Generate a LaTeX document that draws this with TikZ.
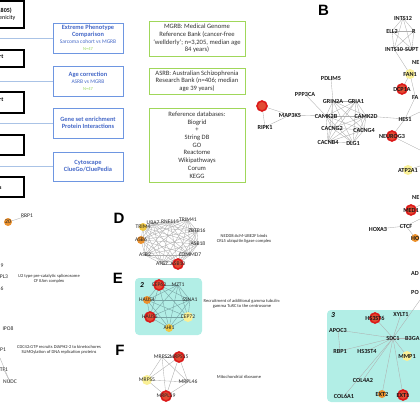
\documentclass[tikz,border=0pt]{standalone}
\usepackage{fontspec}
\setmainfont{Carlito}
\newfontfamily\panelfont{Liberation Sans}
\usetikzlibrary{backgrounds}

\definecolor{boxblue}{RGB}{110,150,225}
\definecolor{txtblue}{RGB}{70,105,200}
\definecolor{boxgreen}{RGB}{160,215,90}
\definecolor{ngreen}{RGB}{150,215,90}
\definecolor{railblue}{RGB}{170,195,230}
\definecolor{hubred}{RGB}{220,25,25}
\definecolor{hubfill}{RGB}{225,75,50}
\definecolor{huborange}{RGB}{235,145,45}
\definecolor{hubyellow}{RGB}{250,240,150}
\definecolor{hubgold}{RGB}{240,200,70}
\definecolor{edgegray}{RGB}{175,175,175}
\definecolor{edgeteal}{RGB}{120,165,165}
\definecolor{clustcyan}{RGB}{178,238,230}

\tikzset{
  blkbox/.style={draw=black, line width=1.1pt, fill=white, minimum width=68pt, inner sep=0pt},
  blktxt/.style={font=\bfseries\fontsize{6}{6.5}\selectfont, inner sep=0pt},
  bluebox/.style={draw=boxblue, line width=0.8pt, fill=white, minimum width=70pt, minimum height=30pt,
    inner sep=0pt, align=center, text=txtblue, font=\fontsize{6.4}{7}\selectfont},
  greenbox/.style={draw=boxgreen, line width=0.9pt, fill=white, minimum width=96pt,
    inner sep=0pt, align=center, text=black!80, font=\fontsize{6.6}{7.7}\selectfont},
  rail/.style={draw=railblue, line width=0.5pt},
  panel/.style={font=\panelfont\bfseries\fontsize{15}{15}\selectfont, inner sep=0pt},
  clusno/.style={font=\bfseries\itshape\fontsize{7.5}{7.5}\selectfont, inner sep=0pt},
  gene/.style={font=\fontsize{5.6}{5.6}\selectfont, inner sep=0pt, text=black!85},
  bgene/.style={font=\bfseries\fontsize{6.2}{6.2}\selectfont, inner sep=0pt, text=black!90},
  note/.style={font=\fontsize{4.5}{5.2}\selectfont, align=center, inner sep=0pt, text=black!85},
  redhub/.style={circle, draw=hubred, line width=1.6pt, fill=hubfill, minimum size=10pt, inner sep=0pt},
  orahub/.style={circle, fill=huborange, minimum size=8pt, inner sep=0pt},
  yelhub/.style={circle, fill=hubyellow, minimum size=10pt, inner sep=0pt},
  goldhub/.style={circle, fill=hubgold, minimum size=8pt, inner sep=0pt},
  edge/.style={draw=edgegray, line width=0.35pt},
  tealedge/.style={draw=edgeteal, line width=0.4pt},
  cluster/.style={fill=clustcyan, rounded corners=4pt}
}

\begin{document}
\begin{tikzpicture}[x=1pt,y=-1pt]
\useasboundingbox (0,0) rectangle (420,420);
\clip (0,0) rectangle (420,420);

% workflow, left column
\node[blkbox, minimum height=27pt] (cohort) at (-10,14.5) {};
\node[blkbox, minimum height=17pt] (setA) at (-10,58.5) {};
\node[blkbox, minimum height=21pt] (setB) at (-10,102.5) {};
\node[blkbox, minimum height=20pt] (setC) at (-10,145) {};
\node[blkbox, minimum height=20pt] (setD) at (-10,187) {};
\node[blktxt, anchor=west] (cohortA) at (-1,11) {,805)};
\node[blktxt, anchor=west] (cohortB) at (-1,18) {\mdseries enicity};
\node[blktxt, anchor=west] (setAtxt) at (-1,57) {rt};
\node[blktxt, anchor=west] (setBtxt) at (-1,100) {rt};
\node[blktxt, anchor=west] (setDtxt) at (-1,188) {s};

\node[bluebox] (xtreme) at (88,38) {\textbf{Extreme Phenotype}\\\textbf{Comparison}\\
  {\fontsize{5.5}{6}\selectfont Sarcoma cohort vs MGRB}\\{\color{ngreen}\fontsize{4.5}{5}\selectfont N=47}};
\node[bluebox] (agecor) at (88,81) {\textbf{Age correction}\\
  {\fontsize{5.5}{6}\selectfont ASRB vs MGRB}\\{\color{ngreen}\fontsize{4.5}{5}\selectfont N=47}};
\node[bluebox] (geneset) at (88,123) {\textbf{Gene set enrichment}\\\textbf{Protein Interactions}};
\node[bluebox, minimum height=29pt] (cytosc) at (88,166.5) {\textbf{Cytoscape}\\\textbf{ClueGo/CluePedia}};

\coordinate (railA) at (0,38);
\coordinate (railB) at (0,81);
\coordinate (railC) at (0,123);
\coordinate (railD) at (0,166.5);
\draw[rail] (railA) -- (xtreme.west);
\draw[rail] (railB) -- (agecor.west);
\draw[rail] (railC) -- (geneset.west);
\draw[rail] (railD) -- (cytosc.west);

\node[greenbox, minimum height=35pt] (mgrb) at (197,38.5) {MGRB: Medical Genome\\Reference Bank (cancer-free\\
  `wellderly'; n=3,205, median age\\84 years)};
\node[greenbox, minimum height=26pt] (asrb) at (197,81) {ASRB: Australian Schizophrenia\\
  Research Bank (n=406; median\\age 39 years)};
\node[greenbox, minimum height=74pt] (refdb) at (197,145) {Reference databases:\\Biogrid\\+\\String DB\\GO\\
  Reactome\\Wikipathways\\Corum\\KEGG};

% panel letters
\node[panel] (pB) at (323.5,10) {B};
\node[panel] (pD) at (119,218) {D};
\node[panel] (pE) at (118,278) {E};
\node[panel] (pF) at (120,350) {F};

% left fragment
\node[gene] (l20) at (8,222) {20};
\node[gene] (RRP1) at (27,216) {RRP1};
\node[gene] (l9) at (2,266) {9};
\node[gene] (lPL3) at (4,277) {PL3};
\node[gene] (l6) at (2,289) {6};
\node[gene] (IPO8) at (8,329) {IPO8};
\node[gene] (lP1) at (3,350) {P1};
\node[gene] (lTF1) at (4,370) {TF1};
\node[gene] (NUDC) at (10,382) {NUDC};
\coordinate (lfree) at (0,358);
\node[note] (u2note) at (49,278.5) {U2 type pre-catalytic spliceosome\\CF IIAm complex};
\node[note] (cdcnote) at (59,349.5) {CDC42:GTP recruits DIAPH2-2 to kinetochores\\SUMOylation of DNA replication proteins};

% D
\node[gene] (TRIM4) at (143,227) {TRIM4};
\node[gene] (UBA7) at (153,223) {UBA7};
\node[gene] (RNF115) at (170,222) {RNF115};
\node[gene] (TRIM41) at (188,220) {TRIM41};
\node[gene] (ZBTB16) at (197,231) {ZBTB16};
\node[gene] (ASB18) at (198,244) {ASB18};
\node[gene] (COMMD7) at (190,255) {COMMD7};
\node[gene] (ASB10) at (178,264) {ASB10};
\node[gene] (ATG7) at (162,264) {ATG7};
\node[gene] (ASB2) at (145,255) {ASB2};
\node[gene] (ASB6) at (141,240) {ASB6};
\node[note] (neddnote) at (244,238.5) {NEDD8:AcM-UBE2F binds\\CRL5 ubiquitin ligase complex};

% E
\node[clusno] (cl2) at (142,285) {2};
\node[gene] (CEP63) at (159,285) {CEP63};
\node[gene] (MZT1) at (178,285) {MZT1};
\node[gene] (HAUS4) at (147,300) {HAUS4};
\node[gene] (SSNA1) at (190,300) {SSNA1};
\node[gene] (HAUS5) at (150,317) {HAUS5};
\node[gene] (CEP72) at (188,317) {CEP72};
\node[gene] (AHI1) at (169,328) {AHI1};
\node[note] (gtnote) at (242,303.5) {Recruitment of additional gamma tubulin:\\gamma TuRC to the centrosome};

% F
\node[gene] (MRPS2) at (162,357) {MRPS2};
\node[gene] (MRPS15) at (179,357) {MRPS15};
\node[gene] (MRPS5) at (147,380) {MRPS5};
\node[gene] (MRPL46) at (188,382) {MRPL46};
\node[gene] (MRPL39) at (166,396) {MRPL39};
\node[note] (mitonote) at (239,377) {Mitochondrial ribosome};

% B
\node[bgene] (INTS12) at (403,18) {INTS12};
\node[bgene] (ELL2) at (392,31) {ELL2};
\node[bgene, anchor=west] (Rx) at (412,31) {R};
\node[bgene] (INTS10) at (394,49) {INTS10};
\node[bgene, anchor=west] (SUPT) at (405,49) {SUPT};
\node[bgene, anchor=west] (NEx) at (412,62) {NE};
\node[bgene] (FAN1) at (410,74) {FAN1};
\node[bgene] (DCP1A) at (402,89) {DCP1A};
\node[bgene, anchor=west] (FAx) at (412,97) {FA};
\node[bgene] (HES1) at (405,119) {HES1};
\node[bgene] (NEUROG3) at (392,136) {NEUROG3};
\node[bgene] (PDLIM5) at (331,79) {PDLIM5};
\node[bgene] (PPP3CA) at (305,94) {PPP3CA};
\node[bgene] (GRIN2A) at (333,101) {GRIN2A};
\node[bgene] (GRIA1) at (356,101) {GRIA1};
\node[bgene] (MAP3K5) at (290,115) {MAP3K5};
\node[bgene] (CAMK2B) at (326,116) {CAMK2B};
\node[bgene] (CAMK2D) at (366,116) {CAMK2D};
\node[bgene] (CACNG2) at (332,128) {CACNG2};
\node[bgene] (CACNG4) at (364,130) {CACNG4};
\node[bgene] (CACNB4) at (328,142) {CACNB4};
\node[bgene] (DLG1) at (353,143) {DLG1};
\coordinate (hubB) at (262,106);
\node[bgene] (RIPK1) at (265,127) {RIPK1};
\node[bgene] (ATP2A1) at (408,170) {ATP2A1};
\node[bgene, anchor=west] (NEy) at (412,197) {NE};
\node[bgene] (MED1) at (411,210) {MED1};
\node[bgene] (CTCF) at (406,226) {CTCF};
\node[bgene] (HOXA3) at (378,229) {HOXA3};
\node[bgene, anchor=west] (HOx) at (411,238) {HO};
\node[bgene, anchor=west] (ADx) at (411,273) {AD};
\coordinate (hesR) at (420,112);
\coordinate (ngR) at (420,150);
\coordinate (atpR) at (420,166);
\coordinate (medR) at (420,205);
\coordinate (ctR) at (420,219);

% cluster 3
\node[clusno] (cl3) at (333,315) {3};
\node[bgene] (HS3ST6) at (375,318) {HS3ST6};
\node[bgene] (XYLT1) at (401,314) {XYLT1};
\node[bgene] (APOC3) at (338,330) {APOC3};
\node[bgene] (SDC1) at (393,338) {SDC1};
\node[bgene, anchor=west] (B3GA) at (405,338) {B3GA};
\node[bgene] (RBP1) at (340,351) {RBP1};
\node[bgene] (HS3ST4) at (367,351) {HS3ST4};
\node[bgene] (MMP1) at (407,356) {MMP1};
\node[bgene] (COL4A2) at (363,380) {COL4A2};
\node[bgene] (COL6A1) at (344,396) {COL6A1};
\node[bgene] (EXT2) at (382,394) {EXT2};
\node[bgene] (EXT1) at (403,395) {EXT1};
\node[bgene, anchor=west] (POx) at (411,292) {PO};
\coordinate (sdcR) at (420,300);

\begin{pgfonlayer}{background}
  \fill[cluster] (135,278) rectangle (202,335);
  \fill[cluster] (327,310) rectangle (430,402);

  % edges
  \foreach \a [count=\i] in {TRIM4,UBA7,RNF115,TRIM41,ZBTB16,ASB18,COMMD7,ASB10,ATG7,ASB2,ASB6}
    \foreach \b [count=\j] in {TRIM4,UBA7,RNF115,TRIM41,ZBTB16,ASB18,COMMD7,ASB10,ATG7,ASB2,ASB6}
      {\ifnum\j>\i \draw[edge] (\a.center) -- (\b.center);\fi}
  \foreach \a [count=\i] in {CEP63,MZT1,HAUS4,SSNA1,HAUS5,CEP72,AHI1}
    \foreach \b [count=\j] in {CEP63,MZT1,HAUS4,SSNA1,HAUS5,CEP72,AHI1}
      {\ifnum\j>\i \draw[tealedge] (\a.center) -- (\b.center);\fi}
  \foreach \a [count=\i] in {MRPS2,MRPS15,MRPS5,MRPL46,MRPL39}
    \foreach \b [count=\j] in {MRPS2,MRPS15,MRPS5,MRPL46,MRPL39}
      {\ifnum\j>\i \draw[edge] (\a.center) -- (\b.center);\fi}
  \foreach \a [count=\i] in {INTS12,ELL2,Rx,INTS10,SUPT}
    \foreach \b [count=\j] in {INTS12,ELL2,Rx,INTS10,SUPT}
      {\ifnum\j>\i \draw[edge] (\a.center) -- (\b.center);\fi}
  \foreach \a [count=\i] in {GRIN2A,GRIA1,CAMK2B,CAMK2D,CACNG2,CACNG4,CACNB4,DLG1}
    \foreach \b [count=\j] in {GRIN2A,GRIA1,CAMK2B,CAMK2D,CACNG2,CACNG4,CACNB4,DLG1}
      {\ifnum\j>\i \draw[edge] (\a.center) -- (\b.center);\fi}
  \foreach \a/\b in {INTS10/FAN1, FAN1/DCP1A, FAN1/FAx, FAx/HES1, HES1/CAMK2D, HES1/NEUROG3,
      HES1/hesR, NEUROG3/ngR, MAP3K5/CAMK2B, PPP3CA/CAMK2B, PDLIM5/GRIN2A, hubB/MAP3K5,
      RIPK1/MAP3K5, hubB/RIPK1, ATP2A1/atpR, MED1/medR, HOXA3/CTCF, CTCF/ctR, CTCF/HOx,
      l20/RRP1, lTF1/NUDC, lfree/NUDC}
    \draw[edge] (\a.center) -- (\b.center);
  \foreach \b in {HS3ST6,XYLT1,APOC3,B3GA,RBP1,HS3ST4,MMP1,COL4A2,COL6A1,EXT2,EXT1,sdcR}
    \draw[edge] (SDC1.center) -- (\b.center);
  \draw[edge] (APOC3.center) -- (RBP1.center);

  % hub markers
  \node[redhub] (hubBdot) at (hubB) {};
  \foreach \g in {DCP1A,NEUROG3,MED1,CEP63,HAUS5,MRPS15,MRPL39,ASB10,HS3ST6,EXT1}
    \node[redhub] (\g-dot) at (\g.center) {};
  \foreach \g in {HAUS4,ASB6,EXT2,HOx,l20}
    \node[orahub] (\g-dot) at (\g.center) {};
  \foreach \g in {FAN1,ATP2A1,CEP72,MRPS5,MMP1}
    \node[yelhub] (\g-dot) at (\g.center) {};
  \foreach \g in {TRIM4,AHI1}
    \node[goldhub] (\g-dot) at (\g.center) {};
\end{pgfonlayer}
\end{tikzpicture}
\end{document}
